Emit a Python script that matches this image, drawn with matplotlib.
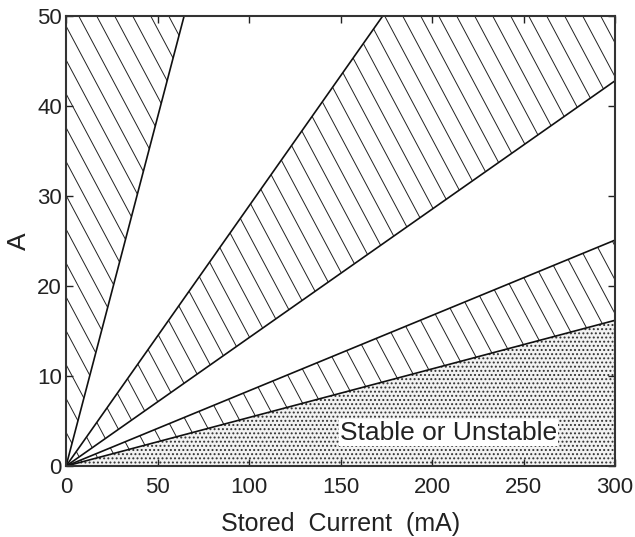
import numpy as np
import matplotlib.pyplot as plt
from matplotlib.collections import LineCollection

plt.rcParams['font.family'] = ['Liberation Sans', 'DejaVu Sans']

# boundary lines through the origin, slope in A per mA
slopes = [0.775, 0.289, 0.1427, 0.0837, 0.054]
x_ticks = [0, 50, 100, 150, 200, 250, 300]
y_ticks = [0, 10, 20, 30, 40, 50]
label_text = 'Stable or Unstable'
label_pos = (209, 3.7)

fig = plt.figure(figsize=(6.35, 5.37), dpi=100)
axpos = [0.104, 0.132, 0.8645, 0.838]
ax = fig.add_axes(axpos)

cur = np.linspace(0, 300, 601)
lines = [s * cur for s in slopes]

# axes size in pixels, for the slanted hatching
W = fig.get_figwidth() * fig.dpi * axpos[2]
H = fig.get_figheight() * fig.dpi * axpos[3]


def hatch(poly, angle=62, step=18):
    shift = H / np.tan(np.radians(angle))
    segs = [[(x0 / W, 1), ((x0 + shift) / W, 0)] for x0 in np.arange(-shift, W + step, step)]
    lc = LineCollection(segs, colors='#222222', linewidths=0.7, transform=ax.transAxes)
    ax.add_collection(lc, autolim=False)
    lc.set_clip_path(poly.get_paths()[0], poly.get_transform())


# hatched bands
p = ax.fill_between(cur, lines[0], 1000, facecolor='none', linewidth=0)
hatch(p)
p = ax.fill_between(cur, lines[2], lines[1], facecolor='none', linewidth=0)
hatch(p)
p = ax.fill_between(cur, lines[4], lines[3], facecolor='none', linewidth=0)
hatch(p)

# stippled region
plt.rcParams['hatch.linewidth'] = 0.9
ax.fill_between(cur, 0, lines[4], facecolor='#f2f2f2', edgecolor='#333333',
                hatch='....', linewidth=0)

for y in lines:
    ax.plot(cur, y, color='#111111', linewidth=1.2)

ax.text(label_pos[0], label_pos[1], label_text, ha='center', va='center', fontsize=19,
        color='#222222', bbox=dict(facecolor='white', edgecolor='none', pad=1))

ax.set_xlim(0, 300)
ax.set_ylim(0, 50)
ax.set_xticks(x_ticks)
ax.set_yticks(y_ticks)
ax.tick_params(direction='in', top=True, right=True, length=5, width=1,
               labelsize=16, colors='#222222')
ax.tick_params(axis='x', pad=8)
ax.tick_params(axis='y', pad=3)
for s in ax.spines.values():
    s.set_linewidth(1.5)
    s.set_color('#333333')

ax.set_xlabel('Stored  Current  (mA)', fontsize=18, labelpad=10, color='#222222')
ax.set_ylabel('A', fontsize=19, labelpad=4, color='#222222')

fig.savefig('out.png', dpi=100)
